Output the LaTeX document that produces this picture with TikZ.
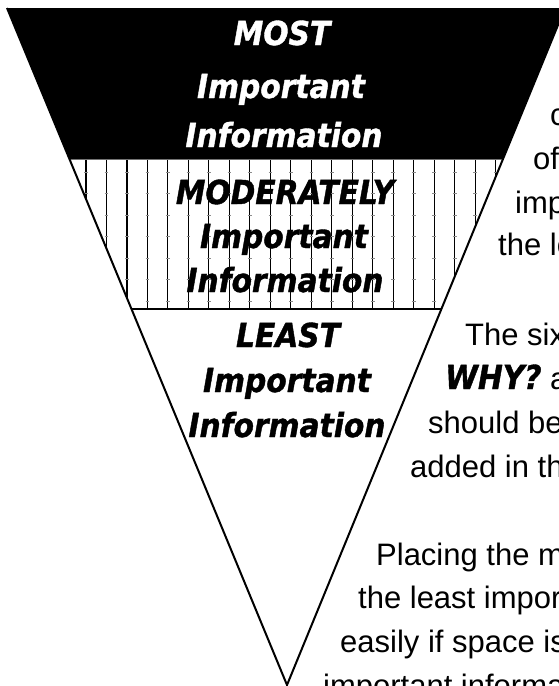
\documentclass[tikz,border=0pt]{standalone}
\usepackage{fontspec}
\setmainfont{Liberation Sans}
\newfontfamily\brush{DejaVu Sans Condensed}[BoldItalicFeatures={FakeBold=1.2}]
\begin{document}
\begin{tikzpicture}[x=1pt,y=-1pt,
  brushtext/.style={font=\brush\bfseries\itshape\fontsize{33}{40}\selectfont, anchor=base, inner sep=0pt},
  bodytext/.style={font=\fontsize{31}{44}\selectfont, anchor=base west, inner sep=0pt},
  stripe/.style={line width=1.1pt, black},
  tickmark/.style={line width=0.5pt, black!45},
  outline/.style={line width=2pt, line join=miter}]
\useasboundingbox (0,0) rectangle (559,686);
\clip (0,0) rectangle (559,686);
\coordinate (TL) at (7,8);
\coordinate (TR) at (565,8);
\coordinate (AP) at (287,685);
\begin{scope}
  \clip (TL) -- (TR) -- (AP) -- cycle;
  \fill[black] (0,8) rectangle (600,158.5);
  \draw[black!55, line width=1pt] (0,159.5) -- (600,159.5);
  \foreach \k in {0,...,20} {
    \draw[stripe] ({86+20.485*\k},160) -- ({86+20.485*\k},309);
    \foreach \t in {0,...,6}
      \draw[tickmark] ({86+20.485*\k-1.8},{172+21.5*\t}) -- ++(3.6,0);
  }
  \draw[line width=2pt] (0,309) -- (600,309);
\end{scope}
\draw[outline] (TL) -- (AP) -- (TR);
% left labels
\node[brushtext, text=white] (most1) at (282,45) {MOST};
\node[brushtext, text=white] (most2) at (281,98) {Important};
\node[brushtext, text=white] (most3) at (284,147) {Information};
\node[brushtext] (mod1) at (285,204) {MODERATELY};
\node[brushtext] (mod2) at (284,248) {Important};
\node[brushtext] (mod3) at (285,292) {Information};
\node[brushtext] (least1) at (288,347) {LEAST};
\node[brushtext] (least2) at (287,392) {Important};
\node[brushtext] (least3) at (287,437) {Information};
% right text
\node[bodytext] (r1) at (550,125) {c};
\node[bodytext] (r2) at (533,169) {of};
\node[bodytext] (r3) at (515,213) {imp};
\node[bodytext] (r4) at (498,255) {the le};
\node[bodytext] (r5) at (465,345) {The six};
\node[bodytext] (r6) at (445,389) {{\brush\bfseries\itshape\fontsize{33}{40}\selectfont WHY?} a};
\node[bodytext] (r7) at (428,433) {should be};
\node[bodytext] (r8) at (410,477) {added in th};
\node[bodytext] (r9) at (376,565) {Placing the m};
\node[bodytext] (r10) at (358,608) {the least impor};
\node[bodytext] (r11) at (340,652) {easily if space is};
\node[bodytext] (r12) at (323,696) {important informa};
\end{tikzpicture}
\end{document}
